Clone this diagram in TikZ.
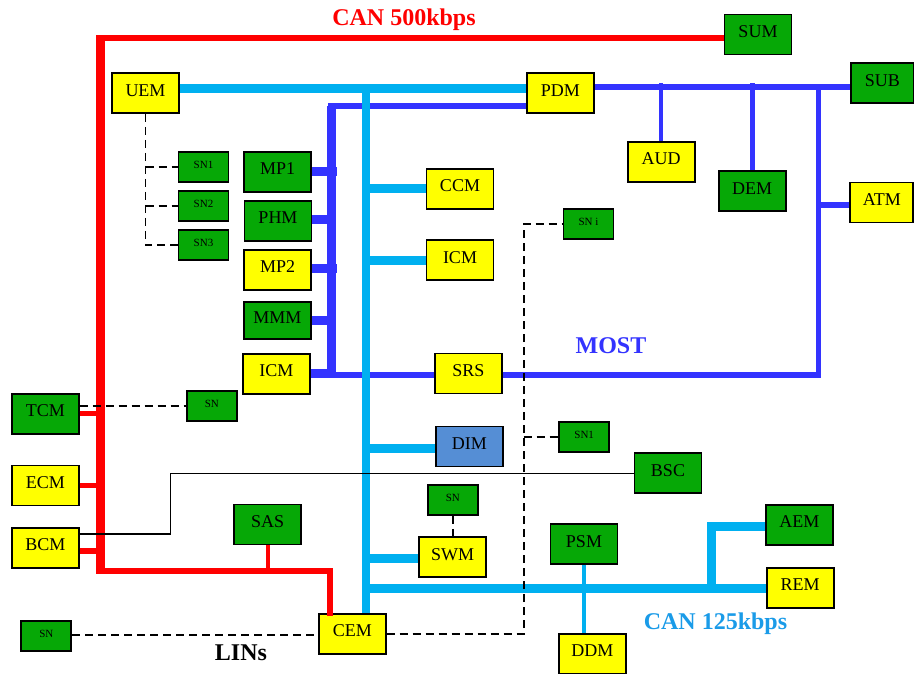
\documentclass[tikz,border=0pt]{standalone}
\usepackage{fontspec}
\setmainfont{Liberation Serif}
\definecolor{cred}{HTML}{FF0000}
\definecolor{ccyan}{HTML}{00B0F0}
\definecolor{cmost}{HTML}{3333FF}
\definecolor{cgreen}{HTML}{06A806}
\definecolor{cyel}{HTML}{FFFF00}
\definecolor{cdim}{HTML}{558ED5}
\definecolor{clab}{HTML}{1A9BE8}
\tikzset{
  ecu/.style={draw=black, line width=1.8pt, inner sep=0pt, minimum width=67pt, minimum height=40pt,
    font=\fontsize{18}{20}\selectfont, text height=12pt, text depth=6pt},
  ecuy/.style={ecu, fill=cyel},
  ecug/.style={ecu, fill=cgreen},
  snbox/.style={draw=black, line width=1.8pt, inner sep=0pt, minimum width=50pt, minimum height=30pt,
    fill=cgreen, font=\fontsize{11}{12}\selectfont, text height=7.5pt, text depth=4pt},
  redbus/.style={draw=cred, line width=5.6pt},
  cyanbus/.style={draw=ccyan, line width=9pt},
  mostbus/.style={draw=cmost, line width=5.8pt},
  mostbox/.style={draw=cmost, line width=9pt},
  lin/.style={draw=black, line width=1.8pt, dash pattern=on 8pt off 5pt},
  wire/.style={draw=black, line width=1.3pt},
  buslabel/.style={font=\bfseries\fontsize{24}{26}\selectfont, inner sep=0pt},
}
\begin{document}
\begin{tikzpicture}[x=1pt, y=-1pt]
\useasboundingbox (0,0) rectangle (914,673);
% nodes
\node[ecuy] (UEM) at (145.5,93) {UEM};
\node[ecug] (SUM) at (758,34.5) {SUM};
\node[ecuy] (PDM) at (560.3,93) {PDM};
\node[ecug, minimum width=63pt] (SUB) at (882.3,83.3) {SUB};
\node[ecuy] (AUD) at (661.2,161.7) {AUD};
\node[ecug] (DEM) at (752.2,191.2) {DEM};
\node[ecuy, minimum width=63pt] (ATM) at (881.8,202.5) {ATM};
\node[snbox] (SNi) at (588.5,224) {SN i};
\node[ecuy] (CCM) at (460,188.7) {CCM};
\node[ecuy] (ICMr) at (460,260.3) {ICM};
\node[ecuy] (SRS) at (468.3,373.5) {SRS};
\node[ecu, fill=cdim] (DIM) at (469.3,446.5) {DIM};
\node[snbox] (SNw) at (452.8,500) {SN};
\node[ecuy] (SWM) at (452.7,557.3) {SWM};
\node[ecuy] (CEM) at (352.3,633.7) {CEM};
\node[snbox] (SNone) at (584.2,436.7) {SN1};
\node[ecug] (PSM) at (584,544.2) {PSM};
\node[ecuy] (DDM) at (592.3,653.7) {DDM};
\node[ecug] (BSC) at (668,473.2) {BSC};
\node[ecug] (AEM) at (799.3,524.8) {AEM};
\node[ecuy] (REM) at (800.2,587.8) {REM};
\node[ecug] (MPone) at (277.7,171.8) {MP1};
\node[ecug] (PHM) at (278,220.7) {PHM};
\node[ecuy] (MPtwo) at (277.7,269.7) {MP2};
\node[ecug, minimum height=37pt] (MMM) at (277.5,320.8) {MMM};
\node[ecuy] (ICMl) at (276.3,373.8) {ICM};
\node[snbox] (SNa) at (203.5,166.8) {SN1};
\node[snbox] (SNb) at (203.5,205.7) {SN2};
\node[snbox] (SNc) at (203.5,245.2) {SN3};
\node[ecug] (TCM) at (45.3,413.7) {TCM};
\node[ecuy] (ECM) at (45.3,485.5) {ECM};
\node[ecuy] (BCM) at (45.3,547.7) {BCM};
\node[snbox] (SNt) at (211.8,406) {SN};
\node[ecug] (SAS) at (267.7,524.5) {SAS};
\node[snbox] (SNl) at (46.3,635.8) {SN};
% labels
\node[buslabel, text=cred] (L500) at (404,20) {CAN 500kbps};
\node[buslabel, text=cmost] (LMOST) at (611,346) {MOST};
\node[buslabel, text=clab] (L125) at (715.5,624) {CAN 125kbps};
\node[buslabel, text=black] (LLIN) at (241,653) {LINs};
% junction coordinates
\coordinate (rTL) at (100.5,37.8);
\coordinate (rBL) at (100.5,571);
\coordinate (rBR) at (329.7,571);
\coordinate (cTop) at (365.8,88);
\coordinate (mTL) at (331.7,105.7);
\coordinate (mBL) at (331.7,375);
\coordinate (mBR) at (818.5,375);
\coordinate (mTR) at (818.5,86.8);
\coordinate (dA) at (523.7,634);
\coordinate (dB) at (523.7,224);
\coordinate (uA) at (145.5,245.2);
\coordinate (bA) at (170.7,534);
\coordinate (bB) at (170.7,473.2);
\coordinate (aJ) at (711.7,588.7);
\coordinate (aK) at (711.7,526);
% CAN 500 (red)
\draw[redbus] ([yshift=-3.3pt]SUM.west) -- (96,37.8);
\draw[cred, line width=8.5pt] (100.5,35) -- (100.5,573.8);
\draw[redbus] (96,571) -- (332.5,571);
\draw[redbus, line cap=rect] (rBR) -- (CEM.north -| rBR);
\draw[cred, line width=4pt] (SAS.south) -- (SAS.south |- rBL);
\draw[cred, line width=5.3pt] (TCM.east) -- (TCM.east -| rTL);
\draw[cred, line width=5.3pt] (ECM.east) -- (ECM.east -| rTL);
\draw[cred, line width=5.3pt] ([yshift=-3.3pt]BCM.east) -- ([yshift=-3.3pt]BCM.east -| rTL);
% MOST (blue)
\draw[mostbus] ([yshift=-12.7pt]PDM.west) -- (327.5,105.7);
\draw[cmost, line width=8.5pt] (mTL) -- (mBL);
\draw[mostbus] (mBL) -- (SRS.west |- mBL);
\draw[mostbus] (SRS.east |- mBR) -- (mBR) -- (mTR);
\draw[mostbus] ([yshift=6.2pt]PDM.east) -- ([yshift=6.2pt]PDM.east -| SUB.west);
\draw[cmost, line width=4.5pt] (661.2,83) -- (AUD.north);
\draw[cmost, line width=4.5pt] (752.5,83) -- (DEM.north -| 752.5,0);
\draw[mostbus] (818.5,204.7) -- (ATM.west |- 0,204.7);
\draw[mostbox] ([yshift=0.8pt]ICMl.east) -- (335.5,373);
\draw[mostbox] (MPone.east) -- (336.7,171.8);
\draw[mostbox] ([yshift=1pt]PHM.east) -- (331.7,219.7);
\draw[mostbox] ([yshift=1pt]MPtwo.east) -- (336.7,268.7);
\draw[mostbox] (MMM.east) -- (331.7,320.8);
% CAN (cyan)
\draw[cyanbus] ([yshift=5pt]UEM.east) -- ([yshift=5pt]PDM.west);
\draw[ccyan, line width=8.3pt] (cTop) -- (CEM.north -| cTop);
\draw[cyanbus] (cTop |- CCM.west) -- (CCM.west);
\draw[cyanbus] (cTop |- ICMr.west) -- (ICMr.west);
\draw[cyanbus] (365.8,448) -- (DIM.west |- 0,448);
\draw[cyanbus] (365.8,558) -- (SWM.west |- 0,558);
\draw[cyanbus] (365.8,588.7) -- (REM.west |- 0,588.7);
\draw[cyanbus] (aJ) -- (aK) -- (AEM.west |- aK);
\draw[ccyan, line width=4pt] (PSM.south) -- (DDM.north -| PSM.south);
% wires and LIN (black)
\draw[wire] ([yshift=13.7pt]BCM.east) -- (bA) -- (bB) -- (BSC.west);
\draw[lin] (UEM.south) -- (uA) -- (SNc.west);
\draw[lin] (UEM.south |- SNa.west) -- (SNa.west);
\draw[lin] (UEM.south |- SNb.west) -- (SNb.west);
\draw[lin] (TCM.east |- SNt.west) -- (SNt.west);
\draw[lin] ([yshift=1pt]SNl.east) -- ([yshift=1pt]SNl.east -| CEM.west);
\draw[lin] (CEM.east |- dA) -- (dA) -- (dB) -- (SNi.west);
\draw[lin] (dA |- SNone.west) -- (SNone.west);
\draw[lin] (SNw.south) -- (SWM.north -| SNw.south);
\end{tikzpicture}
\end{document}
